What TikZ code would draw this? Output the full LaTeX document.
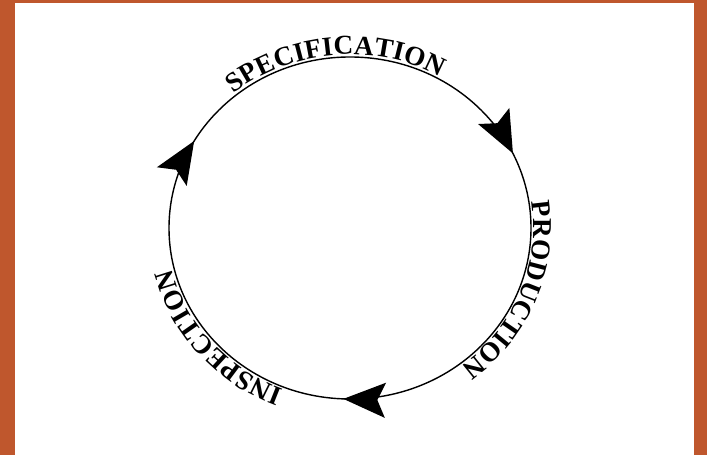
\documentclass[tikz,border=0pt]{standalone}
\usepackage{fontspec}
\newfontfamily\cyclefamily[LetterSpace=28]{Liberation Serif}
\usetikzlibrary{arrows.meta,decorations.markings,decorations.text}
\definecolor{frameorange}{RGB}{191,87,45}

\begin{document}
\begin{tikzpicture}[
  cycleline/.style={line width=0.8pt, black},
  arctext/.style={decorate, decoration={text along path, text align=center, raise=0.05cm,
      text={|\cyclefamily\bfseries\fontsize{15.5pt}{18pt}\selectfont|#1}}}
]

% Frame
\useasboundingbox (0,0) rectangle (14.14,9.1);
\fill[frameorange] (0,0) rectangle (14.14,9.1);
\fill[white] (0.30,0) rectangle (13.88,9.04);

% Cycle
\coordinate (hub) at (7.0,4.54);
\draw[cycleline, postaction={decorate}, decoration={markings,
    mark=at position 0.256 with {\arrow{Stealth[length=0.84cm, width=0.7cm, inset=0.16cm]}},
    mark=at position 0.583 with {\arrow{Stealth[length=0.84cm, width=0.7cm, inset=0.16cm]}},
    mark=at position 0.930 with {\arrow{Stealth[length=0.84cm, width=0.7cm, inset=0.16cm]}}}]
  (hub) ++(0:3.62 and 3.42) arc[start angle=360, end angle=0, x radius=3.62, y radius=3.42];

% Labels
\path[arctext=SPECIFICATION] (hub) ++(136:3.62 and 3.42) arc[start angle=136, end angle=54, x radius=3.62, y radius=3.42];
\path[arctext=PRODUCTION] (hub) ++(12:3.62 and 3.42) arc[start angle=12, end angle=-56, x radius=3.62, y radius=3.42];
\path[arctext=INSPECTION] (hub) ++(254:3.62 and 3.42) arc[start angle=254, end angle=188, x radius=3.62, y radius=3.42];
\end{tikzpicture}
\end{document}
